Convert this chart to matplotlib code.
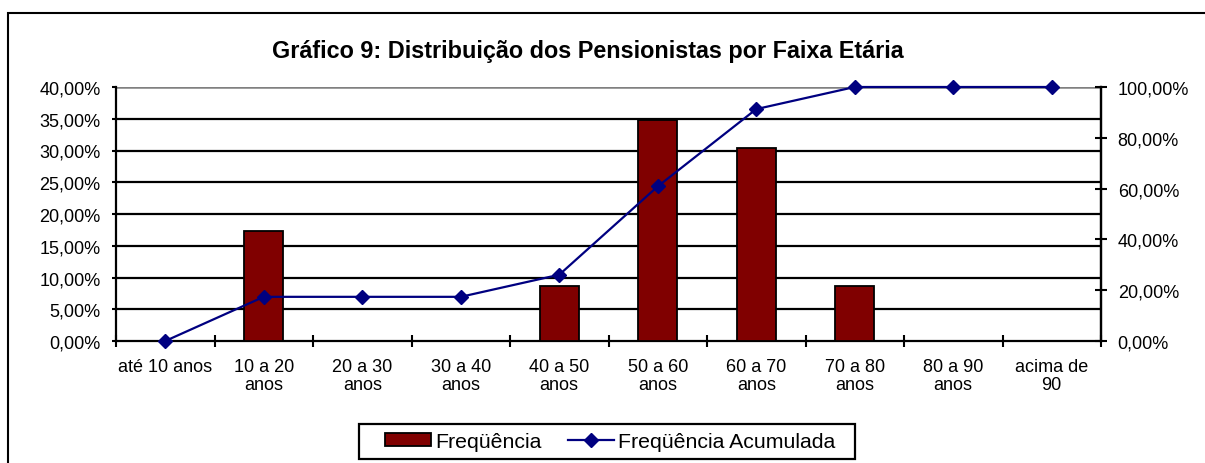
import matplotlib
matplotlib.use("Agg")
import matplotlib.pyplot as plt
from matplotlib.patches import Rectangle
from matplotlib.ticker import FuncFormatter, MultipleLocator
import numpy as np

plt.rcParams['font.family'] = ['Liberation Sans', 'DejaVu Sans']

categories = ["até 10 anos", "10 a 20\nanos", "20 a 30\nanos", "30 a 40\nanos",
              "40 a 50\nanos", "50 a 60\nanos", "60 a 70\nanos", "70 a 80\nanos",
              "80 a 90\nanos", "acima de\n90"]
frequencia = [0.0, 17.39, 0.0, 0.0, 8.70, 34.78, 30.43, 8.70, 0.0, 0.0]
acumulada = [0.0, 17.39, 17.39, 17.39, 26.09, 60.87, 91.30, 100.0, 100.0, 100.0]

W, H = 1205, 464
fig = plt.figure(figsize=(W / 100, H / 100), dpi=100)
fig.patch.set_facecolor("white")

# outer chart frame
fig.patches.append(Rectangle((8 / W, -0.1), 1.2, (H - 14) / H + 0.1,
                             transform=fig.transFigure, fill=False,
                             edgecolor="black", linewidth=1.5))

left, right, top, bottom = 116, 1101, 88, 342
ax = fig.add_axes([left / W, (H - bottom) / H, (right - left) / W, (bottom - top) / H])
x = np.arange(len(categories))

ax.bar(x, frequencia, width=0.4, color="#800000", edgecolor="black", linewidth=1.3,
       zorder=3, label="Freqüência")
ax.set_xlim(-0.5, len(categories) - 0.5)
ax.set_ylim(0, 40)
ax.yaxis.set_major_locator(MultipleLocator(5))
ax.yaxis.set_major_formatter(FuncFormatter(lambda v, p: f"{v:.2f}%".replace(".", ",")))
for yv in np.arange(5, 40, 5):
    ax.axhline(yv, color="black", linewidth=1.6, zorder=1)
ax.axhline(40, color="#808080", linewidth=1.8, zorder=1)

ax.set_xticks(x)
ax.set_xticklabels(categories, fontsize=13, linespacing=1.12)
ax.tick_params(axis="x", length=0, pad=12)
ax.set_xticks(np.arange(-0.5, len(categories), 1), minor=True)
ax.tick_params(axis="x", which="minor", direction="inout", length=8, width=1.5)
ax.tick_params(axis="y", direction="out", length=3, width=1.5, labelsize=13, pad=8)

ax.spines["top"].set_visible(False)
for s in ["left", "right", "bottom"]:
    ax.spines[s].set_linewidth(1.6)

ax2 = ax.twinx()
ax2.plot(x, acumulada, color="#000080", linewidth=1.6, marker="D", markersize=8.5,
         markerfacecolor="#000080", markeredgecolor="#000080", zorder=4,
         label="Freqüência Acumulada", clip_on=False)
ax2.set_ylim(0, 100)
ax2.yaxis.set_major_locator(MultipleLocator(20))
ax2.yaxis.set_major_formatter(FuncFormatter(lambda v, p: f"{v:.2f}%".replace(".", ",")))
ax2.tick_params(axis="y", direction="inout", length=8, width=1.5, labelsize=13, pad=8)
ax2.spines["top"].set_visible(False)
ax2.spines["left"].set_visible(False)
ax2.spines["bottom"].set_visible(False)
ax2.spines["right"].set_linewidth(1.6)

fig.text(588 / W, 1 - 51.5 / H, "Gráfico 9: Distribuição dos Pensionistas por Faixa Etária",
         ha="center", va="center", fontsize=16.8, fontweight="bold")

# legend frame
fig.patches.append(Rectangle((359 / W, 1 - 460 / H), (855 - 359) / W, 35 / H,
                             transform=fig.transFigure, fill=False,
                             edgecolor="black", linewidth=1.6, zorder=5))

h1, l1 = ax.get_legend_handles_labels()
h2, l2 = ax2.get_legend_handles_labels()
for h in h2:
    h.set_markersize(7)
leg = fig.legend(h1 + h2, l1 + l2, loc="center", bbox_to_anchor=(610.5 / W, 1 - 442.5 / H),
                 ncol=2, frameon=False, fontsize=15.3,
                 handlelength=2.15, handleheight=0.6, handletextpad=0.2,
                 columnspacing=1.25, borderpad=0.0, borderaxespad=0.0)

fig.savefig("out.png", dpi=100, facecolor="white")
